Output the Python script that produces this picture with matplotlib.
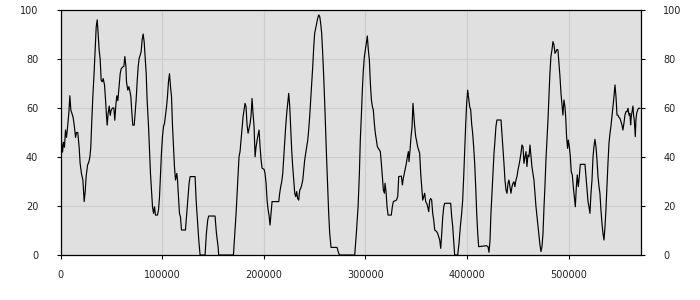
import numpy as np
import matplotlib
matplotlib.use("Agg")
import matplotlib.pyplot as plt

# x positions in thousands, traced values
x_k = [0.3,2.0,3.0,3.9,4.9,5.9,6.9,8.2,9.2,10.2,11.1,12.5,13.8,14.8,15.7,17.0,18.4,19.3,20.7,22.0,23.3,24.3,25.2,26.6,27.9,28.9,29.8,30.8,31.8,33.1,34.1,35.1,36.1,37.0,38.0,39.0,40.0,41.0,42.0,43.3,44.3,45.2,45.9,46.9,47.9,48.9,49.8,51.1,52.5,53.4,54.4,55.4,56.4,57.4,58.7,59.7,61.0,62.3,63.3,64.3,64.9,66.2,67.2,68.2,69.2,70.2,71.1,72.5,73.4,74.4,75.4,76.4,77.4,78.4,79.3,80.3,81.3,82.3,83.3,84.3,85.2,86.6,87.5,88.5,89.5,90.5,91.5,92.5,93.4,95.4,96.4,97.4,98.4,99.3,100.3,101.3,102.3,103.3,104.3,105.2,106.2,107.2,108.2,109.2,110.2,111.1,112.1,113.1,114.4,115.1,116.1,117.0,
       118.0,119.0,122.9,123.9,125.2,126.5,127.5,132.4,133.4,134.7,136.0,137.3,142.2,143.5,144.8,145.8,152.0,153.4,155.0,155.6,170.1,171.4,172.7,173.7,174.7,175.6,176.6,177.6,178.6,179.6,180.6,181.5,182.5,183.5,184.5,185.5,186.5,187.5,188.4,189.4,190.4,191.4,192.4,193.4,194.3,195.3,196.3,197.3,198.3,200.2,201.2,202.2,203.2,204.2,205.1,206.1,207.1,208.1,214.7,215.6,216.6,217.6,218.6,219.6,220.6,221.5,222.5,223.5,224.5,225.5,226.4,227.4,228.4,229.4,230.4,231.4,232.3,233.3,234.3,235.3,236.3,237.3,238.3,239.2,240.2,241.2,242.2,243.2,244.1,245.1,246.1,247.1,248.1,249.1,250.0,251.0,252.0,253.0,254.0,255.0,255.9,256.9,257.9,258.9,259.9,260.9,261.8,262.8,263.8,264.8,266.1,272.0,273.6,
       274.6,289.4,291.0,292.7,294.0,294.9,295.9,296.9,297.9,298.9,299.9,300.8,301.8,302.8,303.8,304.8,305.8,306.8,307.7,308.7,309.7,310.7,311.7,312.7,313.6,314.6,315.6,316.6,317.6,318.6,319.2,320.2,321.2,322.2,325.4,326.4,327.4,330.4,331.7,332.7,335.3,336.3,337.2,338.2,339.2,340.2,341.2,342.2,342.8,343.8,344.8,345.8,346.7,347.4,348.4,349.4,350.4,351.3,352.3,353.3,354.3,355.3,356.3,357.3,358.2,359.2,360.2,361.2,362.2,363.2,364.1,365.1,366.1,367.1,368.1,370.1,371.0,372.0,373.0,374.0,375.0,376.0,377.0,377.9,383.8,384.8,385.8,386.7,387.7,390.7,392.0,393.3,394.6,395.6,396.6,397.6,398.6,399.5,400.5,401.5,402.5,403.5,404.4,405.4,406.4,407.4,408.4,409.4,410.4,411.3,418.9,420.5,
       421.5,422.5,423.4,424.4,425.4,426.4,427.4,428.3,429.3,433.3,434.2,435.2,436.2,437.2,438.2,439.2,440.2,441.1,442.1,443.1,444.1,445.1,446.0,447.0,448.0,449.0,450.0,451.0,451.9,452.9,453.9,454.9,455.9,456.9,457.9,458.8,459.8,460.8,461.8,462.8,463.7,464.7,465.7,466.7,467.7,468.7,469.6,470.6,471.6,472.6,473.6,474.6,475.6,476.5,477.5,478.5,479.5,480.5,481.4,482.4,483.4,484.4,485.4,486.4,487.4,488.3,489.3,490.3,491.3,492.3,493.2,494.2,495.2,496.2,496.9,497.8,498.8,499.5,500.5,501.5,502.4,503.4,504.4,505.4,506.4,507.4,508.3,509.3,510.3,511.3,515.9,516.9,517.9,518.9,519.8,520.8,521.8,522.8,523.8,524.7,525.7,526.7,527.7,528.7,529.7,530.6,531.6,532.6,533.6,534.6,535.6,536.5,537.5,538.5,539.5,540.5,541.4,542.4,543.4,544.4,545.4,546.4,547.4,548.3,549.3,550.3,551.3,552.3,553.2,554.2,555.2,556.2,557.2,558.2,559.2,560.1,560.8,561.4,562.4,563.1,563.7,564.4,565.4,566.0,566.7,567.7,568.7,570.0]

values = [50,42,46,44,51,48,52,58,65,59,58,56,52,48,50,50,43.6,37.4,33,30.6,21.8,26,32,36.7,38,40,44,55,64.6,74.8,83.7,93,96,90.5,83.7,80,71.4,70.7,72,69.4,63.3,57,53,58,60.8,57,59,60,60,55,61,65,63,67.7,74,76,76.7,77,81,77,70.7,67.3,68.7,67,64.6,58,53,53,58,63.3,70.7,76.9,80.3,81.6,83,87.8,90.2,87,80.3,74,63.3,52.4,43,33.3,26.5,19.7,17,19.7,16.3,16.3,18.4,23.8,33.3,41.6,48.3,52.4,53.7,57,60.5,64.6,70.7,74,68.7,64.6,52.4,44.2,36,30.6,33.3,30.6,23.2,17,
          15.6,10.2,10.2,15.6,22.4,29.3,32.0,32.0,22.4,14.3,6.1,0,0,8.8,14.3,15.9,15.9,8.8,3.4,0,0,8.8,17.0,25.2,33.3,40.1,42.2,46.9,51.7,56.5,59.2,61.9,60.5,53.1,49.7,51.7,53.7,57.1,63.9,57.8,52.4,40.1,44.2,46.9,49.0,51.0,44.2,38.8,35.4,35.0,33.3,29.3,22.4,18.4,16.3,12.2,17.0,21.8,21.8,25.2,27.9,29.9,33.3,40.1,46.9,52.4,57.8,61.9,66.0,60.5,52.4,42.9,36.1,30.6,25.2,23.8,25.9,23.1,22.4,26.5,27.2,28.6,30.6,34.7,38.8,41.5,44.2,46.9,51.0,56.5,63.3,70.1,76.9,85.0,90.5,92.5,94.6,96.6,98.0,97.3,94.6,90.5,82.3,72.8,61.9,49.7,38.8,27.9,17.0,8.8,3.1,3.1,0.7,
          0,0,8.8,19.7,33.3,46.9,56.5,67.3,75.5,81.0,83.7,86.4,89.4,83.7,79.6,70.1,63.3,60.5,59.2,53.7,49.7,46.9,44.2,43.5,42.9,42.2,37.4,32.0,26.5,25.2,29.3,25.9,19.7,16.3,16.3,19.7,21.8,22.4,23.8,32.0,32.2,28.6,31.3,33.3,35.4,37.4,40.1,42.2,38.1,42.9,48.3,52.4,61.9,57.8,52.4,48.3,46.3,44.2,42.9,41.5,33.3,27.9,22.4,23.8,25.2,21.8,21.1,19.7,17.7,22.4,23.1,22.4,17.0,14.3,10.2,9.5,8.8,7.5,6.1,2.7,8.8,15.6,19.7,21.1,21.1,15.6,11.6,6.1,0,0,4.8,11.6,17.0,22.4,32.0,42.9,53.7,61.9,67.3,63.9,60.5,59.2,53.7,49.7,44.2,37.4,27.9,17.0,8.8,3.4,3.8,3.4,
          1.1,6.1,17.0,25.2,33.3,41.5,46.9,52.4,55.1,55.1,49.7,44.2,37.4,30.6,26.5,25.2,29.3,30.6,27.9,25.2,27.9,29.3,29.9,27.9,30.6,32.0,34.7,36.7,38.8,41.5,44.9,44.2,37.4,40.1,42.2,36.1,40.8,40.1,44.9,40.1,36.1,33.3,30.6,25.2,19.7,15.6,11.6,7.5,4.1,1.4,3.4,8.8,19.7,27.9,38.8,46.9,55.1,64.6,74.1,81.0,83.7,87.1,85.7,82.3,83.0,83.9,83.7,78.2,72.8,66.0,61.9,57.1,63.3,60.5,56.5,48.3,43.5,46.9,44.2,40.1,34.0,32.7,27.9,23.8,19.7,27.9,32.7,27.9,32.0,37.0,37.0,32.0,26.5,21.8,19.7,17.0,25.2,30.6,40.1,44.2,47.2,44.2,38.8,32.0,27.9,25.2,18.4,12.9,8.8,6.1,11.6,18.4,27.9,37.4,45.6,49.7,52.4,56.5,60.5,64.6,69.4,64.6,57.1,57.1,56.2,55.8,54.4,53.1,51.0,53.7,57.1,58.5,58.5,59.9,57.1,57.8,53.1,56.5,59.2,60.8,57.1,55.1,48.3,55.1,57.8,59.2,59.9,59.9]

x_ticks = [0, 100000, 200000, 300000, 400000, 500000]
y_ticks = [0, 20, 40, 60, 80, 100]

x = np.array(x_k) * 1000.0
y = np.array(values)

fig = plt.figure(figsize=(7, 3), dpi=100)
ax = fig.add_axes([60.5/700, 1-255/300, (641-60.5)/700, 245/300])
ax.set_facecolor('#e0e0e0')
ax.plot(x, y, color='black', lw=0.85, zorder=2)
ax.set_xlim(0, 571000)
ax.set_ylim(0, 100)
ax.set_xticks(x_ticks)
ax.set_xticklabels([str(t) for t in x_ticks])
ax.set_yticks(y_ticks)
ax.set_yticklabels([str(t) for t in y_ticks])
ax.grid(True, color='#cdcdcd', lw=0.8, zorder=0)
ax.set_axisbelow(True)
for s in ax.spines.values():
    s.set_color('black')
    s.set_linewidth(0.9)
    s.set_zorder(3)
ax.tick_params(axis='both', labelsize=7, colors='black', labelcolor='#222222', length=3, width=0.8)
ax.tick_params(axis='y', left=True, right=False, labelleft=True, labelright=False, pad=13)
ax.tick_params(axis='x', pad=8)

axr = ax.twinx()
axr.set_ylim(0, 100)
axr.set_yticks(y_ticks)
axr.set_yticklabels([str(t) for t in y_ticks])
axr.tick_params(axis='y', labelsize=7, colors='black', labelcolor='#222222', length=3, width=0.8, pad=13)
for s in axr.spines.values():
    s.set_visible(False)

fig.savefig('out.png', dpi=100)
